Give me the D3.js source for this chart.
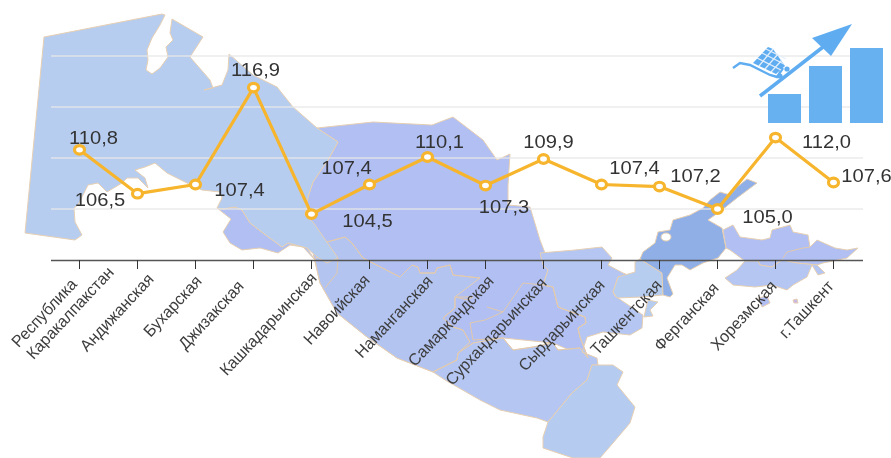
<!DOCTYPE html>
<html><head><meta charset="utf-8">
<script src="https://cdn.jsdelivr.net/npm/d3@7"></script>
<style>
html,body{margin:0;padding:0;background:#fff}
svg{display:block;filter:blur(.4px)}
text{font-family:"Liberation Sans",Arial,sans-serif}
</style></head><body><svg id="c" width="891" height="458"></svg>
<script>
const categories=["Республика Каракалпакстан","Андижанская","Бухарская","Джизакская","Кашкадарьинская","Навоийская","Наманганская","Самаркандская","Сурхандарьинская","Сырдарьинская","Ташкентская","Ферганская","Хорезмская","г.Ташкент"];
const values=[110.8,106.5,107.4,116.9,104.5,107.4,110.1,107.3,109.9,107.4,107.2,105.0,112.0,107.6];
const yTicks=[105,110,115,120];

// layout: value-label offset from its point, tick-label end offset from its tick
const valueOffsetX=[14,-37.5,44,2,56,-23,12,18.5,5,33,36,50,51,33];
const valueOffsetY=[-6,12,11.5,-11.5,13,-10.5,-9,27.5,-11,-10.5,-4.5,14,10.5,-0.5];
const tickEndX=[31,13,3,-13,2,-3,2,5,0,0,-1,-2,-2,-3];
const tickEndY=[9,16,18,23,15,17,18,18,20,22,22,25,23,23];

// decorative background map of Uzbekistan (traced outlines)
const mapBase=[
 {fill:"#b1bff2",pts:[[317,128],[373,122],[432,125],[453,117],[470,130],[483,140],[497,160],[510,154],[508,185],[508,205],[530,207],[540,240],[545,253],[548,270],[543,285],[553,287],[558,307],[585,317],[586,323],[578,328],[580,337],[588,358],[553,343],[503,338],[473,343],[433,372],[397,358],[367,337],[337,313],[320,283],[315,262],[305,215],[308,197],[313,182],[328,160],[338,142]]},
 {fill:"#b3c4f1",pts:[[315,260],[327,242],[345,237],[352,243],[363,258],[400,277],[412,265],[418,267],[420,273],[435,273],[437,268],[450,265],[453,275],[480,278],[455,297],[455,308],[443,318],[453,327],[463,330],[470,342],[458,353],[457,360],[433,372],[397,358],[367,337],[337,313],[320,283]]},
 {fill:"#b4c6f1",pts:[[540,253],[575,250],[602,247],[612,258],[608,265],[623,273],[633,277],[618,277],[613,292],[615,296],[643,315],[642,328],[630,335],[603,332],[587,337],[582,352],[597,358],[598,365],[592,365],[587,380],[572,393],[548,422],[537,418],[500,410],[480,400],[445,380],[433,372],[457,360],[458,353],[473,343],[503,338],[513,350],[533,347],[553,343],[558,350],[580,348],[588,358],[580,337],[578,328],[586,323],[585,317],[558,307],[553,287],[543,285],[548,270],[543,265]]},
 {fill:"#b6cbf0",pts:[[548,422],[572,393],[587,380],[592,365],[598,365],[613,365],[623,372],[617,385],[635,407],[630,423],[613,443],[600,458],[573,458],[543,448],[543,437]]},
 {fill:"#b1bff2",pts:[[217,208],[223,209],[235,207],[242,210],[250,223],[263,233],[282,247],[288,243],[307,248],[315,260],[303,247],[290,245],[278,253],[260,248],[242,250],[230,243],[223,232],[231,219]]},
 {fill:"#b7cdf0",pts:[[44,37],[162,14],[165,15],[160,25],[152,38],[147,50],[148,60],[146,70],[152,74],[160,68],[168,57],[166,47],[173,40],[170,33],[172,19],[203,37],[190,57],[210,80],[213,88],[204,90],[222,85],[228,70],[229,54],[253,75],[277,87],[293,107],[317,128],[338,142],[328,160],[313,182],[308,197],[305,215],[313,222],[338,258],[327,263],[317,257],[307,248],[288,243],[282,247],[263,233],[250,223],[242,210],[235,207],[223,209],[217,208],[222,198],[220,192],[202,190],[187,183],[167,173],[155,163],[145,167],[135,170],[145,178],[148,188],[145,185],[138,178],[127,178],[122,183],[107,192],[98,183],[88,185],[78,205],[74,208],[75,222],[82,235],[75,240],[25,233]]},
 {fill:"#b7cdf0",pts:[[635,262],[640,259],[662,273],[663,295],[642,297],[617,298],[613,292],[618,277],[635,272]]},
 {fill:"#b7cdf0",pts:[[648,300],[658,302],[650,310],[653,316],[644,317],[646,308]]},
 {fill:"#8fafe6",pts:[[757,183],[747,179],[737,187],[730,195],[720,192],[710,200],[703,208],[690,215],[673,220],[670,230],[658,232],[655,243],[643,252],[640,259],[662,273],[663,295],[670,297],[673,294],[667,278],[675,265],[682,265],[690,270],[703,263],[718,258],[726,248],[722,228],[708,220],[722,210],[737,198]]},
 {fill:"#b1bff2",pts:[[723,230],[733,225],[740,237],[762,240],[770,238],[772,230],[783,227],[790,225],[793,232],[808,235],[810,247],[817,240],[835,248],[847,250],[858,248],[847,258],[833,261],[823,263],[817,265],[797,263],[782,260],[772,267],[760,265],[758,261],[745,261],[730,250],[726,248]]},
 {fill:"#b4c6f1",pts:[[745,261],[758,261],[760,265],[772,267],[782,260],[797,263],[817,265],[825,273],[818,275],[812,265],[807,277],[793,285],[787,290],[772,285],[755,287],[733,285],[725,278],[737,270]]},
 {fill:"#b1bff2",pts:[[758,298],[767,296],[770,303],[762,307]]},
 {fill:"#c7b6e8",pts:[[793,300],[797,299],[798,303],[794,303]]}
];
const mapBorders=[
 [[327,242],[345,237],[352,243],[363,258],[400,277],[412,265],[418,267],[420,273],[435,273],[437,268],[450,265],[453,275],[480,278]],
 [[523,283],[543,285],[553,287],[558,307],[585,317],[586,323],[578,328],[580,337],[588,358]],
 [[455,297],[473,297],[468,300],[455,297],[455,308],[443,318],[453,327],[463,330],[470,342]],
 [[487,307],[503,312],[485,320],[470,323],[473,340],[503,338],[513,350],[533,347],[553,343],[558,350],[580,348]],
 [[473,343],[458,353],[457,360],[433,372]],
 [[338,258],[337,273],[325,288]],
 [[523,283],[503,312]],
 [[783,258],[787,252],[803,248],[810,247]]
];
const cartBasket=[[753,63],[768,47],[773,49],[785,66],[776,74]];
const cartHandle=[[733,68],[740,63],[750,65],[770,75],[777,77],[783,68]];

const svg=d3.select("#c");
const line2=d3.line();
const mapG=svg.append("g");
mapBase.forEach(s=>{
  mapG.append("path").attr("d",line2(s.pts)+"Z").attr("fill",s.fill).attr("stroke","#e6cfb2").attr("stroke-width",1).attr("stroke-linejoin","round");
});
mapG.selectAll(".b").data(mapBorders).join("path").attr("d",d=>line2(d)).attr("fill","none").attr("stroke","#e2c9ad").attr("stroke-width",1);
mapG.append("ellipse").attr("cx",666).attr("cy",237).attr("rx",5).attr("ry",4).attr("fill","#fff").attr("stroke","#e6cfb2");

const x=d3.scaleBand().domain(categories).range([50.5,862.5]);
const y=d3.scaleLinear().domain([100,120]).range([260,56]);
const cx=d=>x(d)+x.bandwidth()/2;

svg.append("g").selectAll("line").data(yTicks).join("line")
 .attr("x1",51).attr("x2",863).attr("y1",d=>y(d)).attr("y2",d=>y(d))
 .attr("stroke","#e6e6e6").attr("stroke-opacity",.85).attr("stroke-width",1.3);

// icon
const icon=svg.append("g").attr("fill","#5fadf0");
[[768,94,33,29],[809,66,33,57],[850,48,33,75]].forEach(r=>icon.append("rect").attr("x",r[0]).attr("y",r[1]).attr("width",r[2]).attr("height",r[3]).attr("fill-opacity",.95));
icon.append("path").attr("d",line2([[760,96],[823,47]])).attr("stroke","#5fadf0").attr("stroke-width",3.6);
icon.append("path").attr("d",line2([[852,24],[812,38],[831,56]])+"Z");
icon.append("path").attr("d",line2(cartHandle)).attr("fill","none").attr("stroke","#5fadf0").attr("stroke-width",2.4);
icon.append("path").attr("d",line2(cartBasket)+"Z");
[[757,58,781,70],[762,53,784,64],[766,49,786,59],[759,66,773,49],[765,69,778,54],[771,72,782,60]].forEach(l=>icon.append("line").attr("x1",l[0]).attr("y1",l[1]).attr("x2",l[2]).attr("y2",l[3]).attr("stroke","#e3effc").attr("stroke-width",1.2));
icon.append("circle").attr("cx",780).attr("cy",76).attr("r",2.6);
icon.append("circle").attr("cx",787).attr("cy",69).attr("r",2.6);

// axis
const ax=svg.append("g").attr("transform","translate(0,260)").call(d3.axisBottom(x).tickSize(9).tickSizeOuter(0));
ax.select(".domain").attr("stroke","#555").attr("stroke-width",1.5);
ax.selectAll(".tick line").attr("stroke","#333").attr("stroke-width",1);
ax.selectAll(".tick text").remove();
const labels=svg.append("g").attr("fill","#3d3d3d").attr("font-size",16.5);
categories.forEach((c,i)=>{
  const px=cx(c)+tickEndX[i], py=260+tickEndY[i];
  const t=labels.append("text").attr("transform",`translate(${px},${py}) rotate(-47) scale(.97,1)`).attr("text-anchor","end").attr("dy",".35em");
  if(i===0){
    t.text("Каракалпакстан");
    labels.append("text").attr("transform",`translate(${px-37},${py+12}) rotate(-47) scale(.97,1)`).attr("text-anchor","end").attr("dy",".35em").text("Республика");
  } else t.text(c);
});

// line + points
const pathLine=d3.line().x((d,i)=>cx(categories[i])).y(d=>y(d));
svg.append("path").attr("d",pathLine(values)).attr("fill","none").attr("stroke","#f6b52c").attr("stroke-width",3.2).attr("stroke-linejoin","round");
svg.append("g").selectAll("ellipse").data(values).join("ellipse")
 .attr("cx",(d,i)=>cx(categories[i])).attr("cy",d=>y(d)).attr("rx",5).attr("ry",4.3)
 .attr("fill","#fff").attr("stroke","#f6b52c").attr("stroke-width",3.2);
const fmt=v=>v.toFixed(1).replace(".",",");
svg.append("g").attr("fill","#333").attr("font-size",18).selectAll("text").data(values).join("text")
 .attr("text-anchor","middle")
 .attr("transform",(d,i)=>`translate(${cx(categories[i])+valueOffsetX[i]},${y(d)+valueOffsetY[i]}) scale(1.12,1)`)
 .text(fmt);
</script></body></html>
